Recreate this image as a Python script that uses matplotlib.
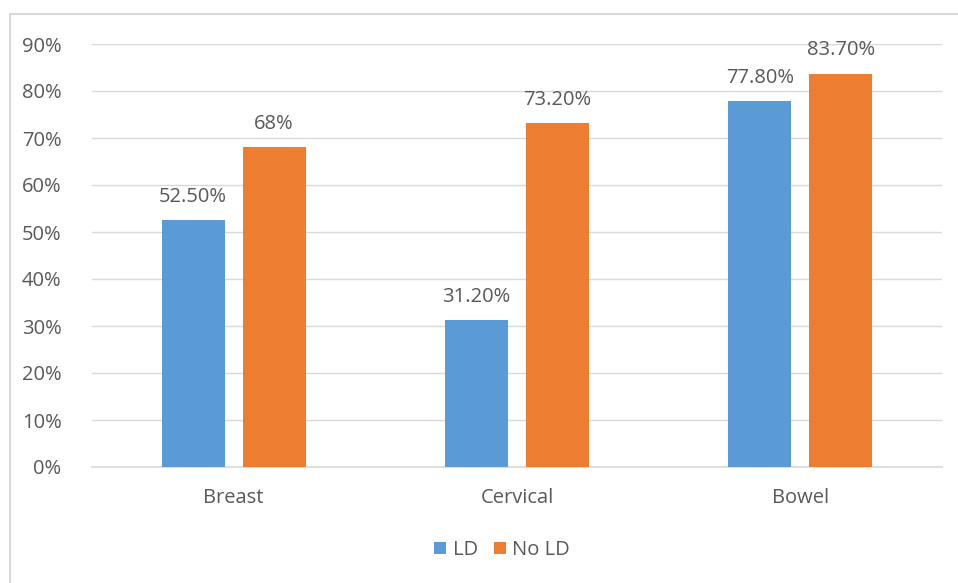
import matplotlib.pyplot as plt
import numpy as np
from matplotlib.patches import Rectangle

# Screening uptake by condition
categories = ['Breast', 'Cervical', 'Bowel']
ld_values = [52.5, 31.2, 77.8]
no_ld_values = [68.0, 73.2, 83.7]
ld_labels = ['52.50%', '31.20%', '77.80%']
no_ld_labels = ['68%', '73.20%', '83.70%']
y_ticks = [0, 10, 20, 30, 40, 50, 60, 70, 80, 90]

BLUE = '#5B9BD5'
ORANGE = '#ED7D31'
TEXT = '#595959'
GRID = '#D9D9D9'
FS = 14.5

plt.rcParams['font.family'] = ['Open Sans', 'DejaVu Sans']

fig = plt.figure(figsize=(9.58, 5.83), dpi=100)
W, H = 958, 583

# chart area border
fig.patches.append(Rectangle((10 / W, -0.1), 1.1, 1 - 14 / H + 0.1,
                             transform=fig.transFigure, fill=False,
                             edgecolor=GRID, linewidth=1.5))

ax = fig.add_axes([92 / W, 1 - 467 / H, 850 / W, (467 - 44) / H])

x = np.arange(len(categories))
width = 0.222
offset = 0.143

b1 = ax.bar(x - offset, ld_values, width, color=BLUE, label='LD', zorder=3)
b2 = ax.bar(x + offset, no_ld_values, width, color=ORANGE, label='No LD', zorder=3)

for bars, labels in ((b1, ld_labels), (b2, no_ld_labels)):
    for bar, lab in zip(bars, labels):
        ax.text(bar.get_x() + bar.get_width() / 2, bar.get_height() + 2.8, lab,
                ha='center', va='bottom', fontsize=FS, color=TEXT)

ax.set_xlim(-0.5, 2.5)
ax.set_ylim(0, 90)
ax.set_yticks(y_ticks)
ax.set_yticklabels([f'{t}%' for t in y_ticks])
ax.set_xticks(x)
ax.set_xticklabels(categories)
ax.tick_params(axis='both', length=0, labelsize=FS, colors=TEXT)
ax.tick_params(axis='y', pad=22)
ax.tick_params(axis='x', pad=15)

ax.grid(axis='y', color=GRID, linewidth=1, zorder=0)
for side in ('top', 'right', 'left'):
    ax.spines[side].set_visible(False)
ax.spines['bottom'].set_color(GRID)
ax.spines['bottom'].set_linewidth(1.2)

leg = fig.legend(handles=[b1, b2], loc='center', bbox_to_anchor=(502 / W, 1 - 550 / H),
                 ncol=2, frameon=False, fontsize=FS, handlelength=0.6,
                 handleheight=0.6, handletextpad=0.3, columnspacing=0.8)
for t in leg.get_texts():
    t.set_color(TEXT)

fig.savefig('out.png', dpi=100)
